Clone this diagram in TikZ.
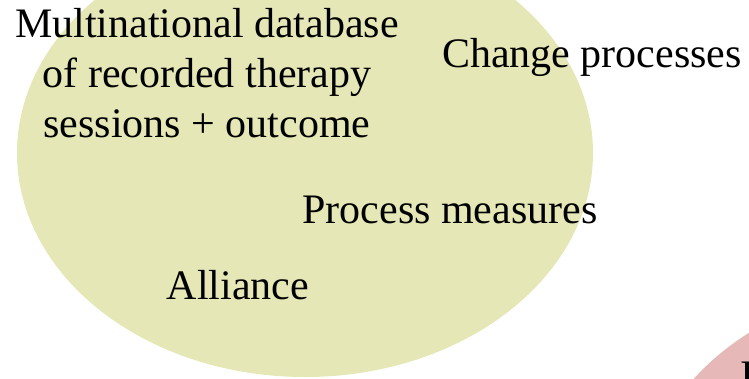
\documentclass[tikz,border=0pt]{standalone}
\usepackage{fontspec}
\setmainfont{Liberation Serif}
\definecolor{setyellow}{HTML}{E6E7B7}
\definecolor{setpink}{HTML}{E6B8B7}
\begin{document}
\begin{tikzpicture}[x=1pt, y=-1pt,
    label/.style={inner sep=0pt, font=\fontsize{42}{50}\selectfont}]

    \useasboundingbox (0,0) rectangle (749,378);

    \fill[setyellow] (305,153) ellipse [x radius=288, y radius=224];
    \fill[setpink] (930,507) ellipse [x radius=288, y radius=224];

    \node[label, align=center, anchor=base] (database) at (207,137)
        {Multinational database\\of recorded therapy\\sessions + outcome};
    \node[label, anchor=base] (change) at (592,67) {Change processes};
    \node[label, anchor=base] (process) at (450,223) {Process measures};
    \node[label, anchor=base] (alliance) at (238,299) {Alliance};
    \node[label, anchor=base west] (third) at (740,389) {I};

\end{tikzpicture}
\end{document}
